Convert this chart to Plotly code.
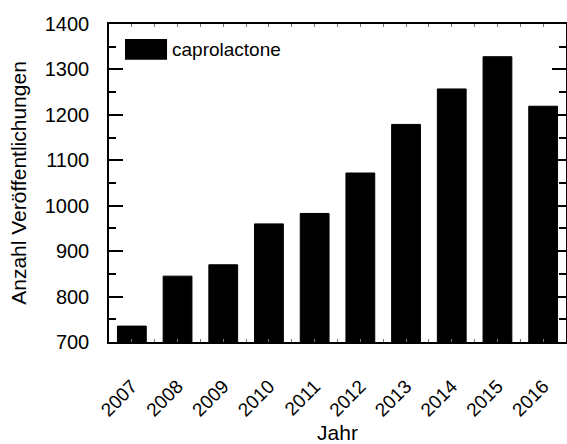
import plotly.graph_objects as go

years = [2007, 2008, 2009, 2010, 2011, 2012, 2013, 2014, 2015, 2016]
publications = [735, 845, 870, 960, 983, 1072, 1179, 1257, 1328, 1219]
year_labels = [str(y) for y in years]
series_name = "caprolactone"
y_ticks = [700, 800, 900, 1000, 1100, 1200, 1300, 1400]

FONT = "Liberation Sans, Arial, sans-serif"

fig = go.Figure()
fig.add_trace(go.Bar(
    x=years, y=publications, name=series_name, width=0.63,
    marker=dict(color="black", line=dict(color="black", width=1)),
    showlegend=False,
))

# legend drawn manually (wide Origin-style swatch)
fig.add_shape(type="rect", xref="paper", yref="paper",
              x0=0.035, x1=0.127, y0=0.8875, y1=0.953,
              fillcolor="black", line=dict(color="black", width=0))
fig.add_annotation(xref="paper", yref="paper", x=0.1335, y=0.92,
                   xanchor="left", yanchor="middle", showarrow=False,
                   text=series_name, font=dict(family=FONT, size=19, color="black"))

fig.update_layout(
    width=567, height=444,
    margin=dict(l=109, r=1, t=24, b=102),
    plot_bgcolor="white", paper_bgcolor="white",
    font=dict(family=FONT, color="black", size=19),
)
fig.update_xaxes(
    automargin=False,
    range=[2006.5, 2016.5],
    tickvals=years, ticktext=year_labels, tickangle=-45,
    ticks="inside", ticklen=3, tickcolor="#777", tickwidth=1,
    minor=dict(ticks="inside", ticklen=3, tickcolor="#777", dtick=0.5, tick0=2006.5),
    showline=True, linecolor="black", linewidth=1.5, mirror="allticks",
    showgrid=False, zeroline=False,
    tickfont=dict(size=19), ticklabelstandoff=24,
    title=dict(text="Jahr", font=dict(size=21), standoff=10),
)
fig.update_yaxes(
    automargin=False,
    range=[700, 1400],
    tickvals=y_ticks,
    ticks="inside", ticklen=14, tickcolor="black", tickwidth=1.5,
    minor=dict(ticks="inside", ticklen=7, tickcolor="black", dtick=50, tick0=700),
    showline=True, linecolor="black", linewidth=1.5, mirror="allticks",
    showgrid=False, zeroline=False,
    tickfont=dict(size=20), ticklabelstandoff=14,
    title=dict(text="Anzahl Veröffentlichungen", font=dict(size=21), standoff=12),
)

fig.write_html("out.html")
